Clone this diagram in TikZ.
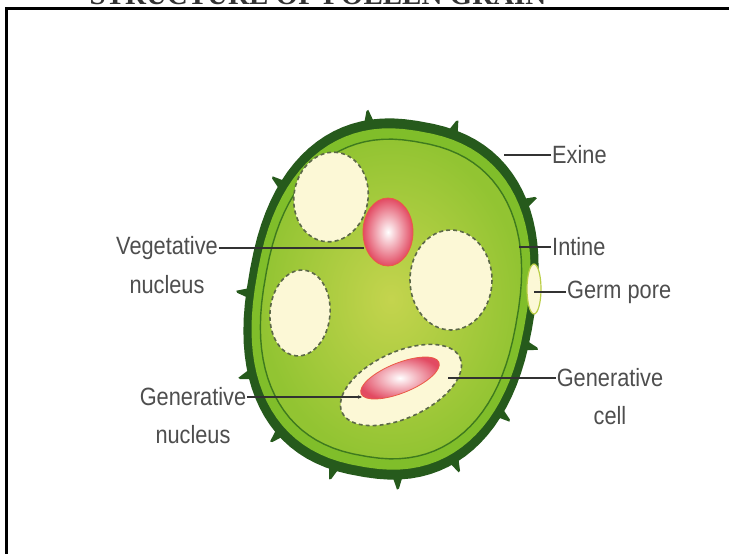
\documentclass[tikz,border=0pt]{standalone}
\usepackage{fontspec}
\setmainfont{Liberation Sans}
\newfontfamily\headfont{Liberation Serif}
\newfontfamily\lblfont[FakeStretch=0.87]{Liberation Sans}
\usetikzlibrary{arrows.meta}

\definecolor{exine}{RGB}{38,90,28}
\definecolor{wall}{RGB}{128,190,42}
\definecolor{intine}{RGB}{62,122,30}
\definecolor{cytomid}{RGB}{196,212,78}
\definecolor{cytoedge}{RGB}{146,196,50}
\definecolor{vacuole}{RGB}{252,248,214}
\definecolor{vacedge}{RGB}{92,104,72}
\definecolor{nucrim}{RGB}{226,74,98}
\definecolor{poreedge}{RGB}{186,206,70}
\definecolor{labelgray}{RGB}{78,78,78}
\definecolor{leadgray}{RGB}{50,50,50}

\begin{document}
\begin{tikzpicture}[x=1pt,y=-1pt,
    lbl/.style={font=\lblfont\fontsize{25}{28}\selectfont, text=labelgray, inner sep=1pt},
    leader/.style={draw=leadgray, line width=1.3pt, -{Stealth[length=4pt,width=3.5pt]}},
    vac/.style={fill=vacuole, draw=vacedge, line width=1.6pt, dash pattern=on 4pt off 3pt},
    nuc/.style={inner color=white, outer color=nucrim, draw=nucrim!70!orange, line width=0.8pt},
    exinelayer/.style={fill=exine},
    walllayer/.style={fill=wall},
    cytolayer/.style={inner color=cytomid, outer color=cytoedge, draw=intine, line width=1.4pt}]

      \useasboundingbox (0,0) rectangle (729,554);
      \clip (0,0) rectangle (729,554);
      \fill[white] (0,0) rectangle (729,554);

      \node[font=\headfont\bfseries\fontsize{29}{32}\selectfont, text=black!80, anchor=base]
        (title) at (318,5) {STRUCTURE OF POLLEN GRAIN};
      \draw[line width=3pt] (6,560) -- (6,8.5) -- (735,8.5);

      \begin{scope}[shift={(391,299)}, rotate=-10]
        % spines on the exine
        \foreach \t in {5,28,54,78,98,124,150,176,208,252,280,322}
          \fill[exine, shift={({144*sign(cos(\t))*abs(cos(\t))^0.85},{180*sign(sin(\t))*abs(sin(\t))^0.85})},
                rotate=-\t-90] (-5,3) -- (-1,-9) -- (1,-10) -- (5,3) -- cycle;
        % exine, wall band, intine and cytoplasm
        \foreach \s/\layer in {1/exinelayer, 0.945/walllayer, 0.885/cytolayer}
          \path[scale=\s, \layer] plot[domain=1:357, samples=90]
            ({144*sign(cos(\x))*abs(cos(\x))^0.85},{180*sign(sin(\x))*abs(sin(\x))^0.85}) -- cycle;
      \end{scope}

      \filldraw[fill=vacuole, draw=poreedge, line width=1.2pt] (534,289) ellipse [x radius=7, y radius=25];

      \path[vac, rotate around={-10:(331,197)}] (331,197) ellipse [x radius=37, y radius=45];
      \path[vac, rotate around={-5:(300,313)}] (300,313) ellipse [x radius=30, y radius=43];
      \path[vac] (451,280) ellipse [x radius=41, y radius=50];
      \path[vac, rotate around={25:(401,385)}] (401,385) ellipse [x radius=65, y radius=33];

      \shadedraw[nuc] (388,232) ellipse [x radius=25, y radius=34];
      \shadedraw[nuc, rotate around={22:(400,378)}] (400,378) ellipse [x radius=42, y radius=15];

      \coordinate (exinept) at (504,155);
      \coordinate (intinept) at (519,247);
      \coordinate (porept) at (534,292);
      \coordinate (gcellpt) at (448,378);
      \coordinate (vegpt) at (364,248);
      \coordinate (gnucpt) at (362,397);

      \node[lbl, anchor=west] (exinelbl) at (551,155) {Exine};
      \node[lbl, anchor=west] (intinelbl) at (551,247) {Intine};
      \node[lbl, anchor=west] (porelbl) at (566,292) {Germ pore};
      \node[lbl] (gcelllbl) at (610,378) {Generative};
      \node[lbl] (gcelllblb) at (610,416) {cell};
      \node[lbl] (veglbl) at (167,248) {Vegetative};
      \node[lbl] (veglblb) at (167,285) {nucleus};
      \node[lbl] (gnuclbl) at (193,397) {Generative};
      \node[lbl] (gnuclblb) at (193,435) {nucleus};

      \draw[leader]
        (exinelbl.west) -- (exinept)
        (intinelbl.west) -- (intinept)
        (porelbl.west) -- (porept)
        (gcelllbl.west) -- (gcellpt)
        (veglbl.east) -- (vegpt)
        (gnuclbl.east) -- (gnucpt)
      ;
    \end{tikzpicture}
\end{document}
